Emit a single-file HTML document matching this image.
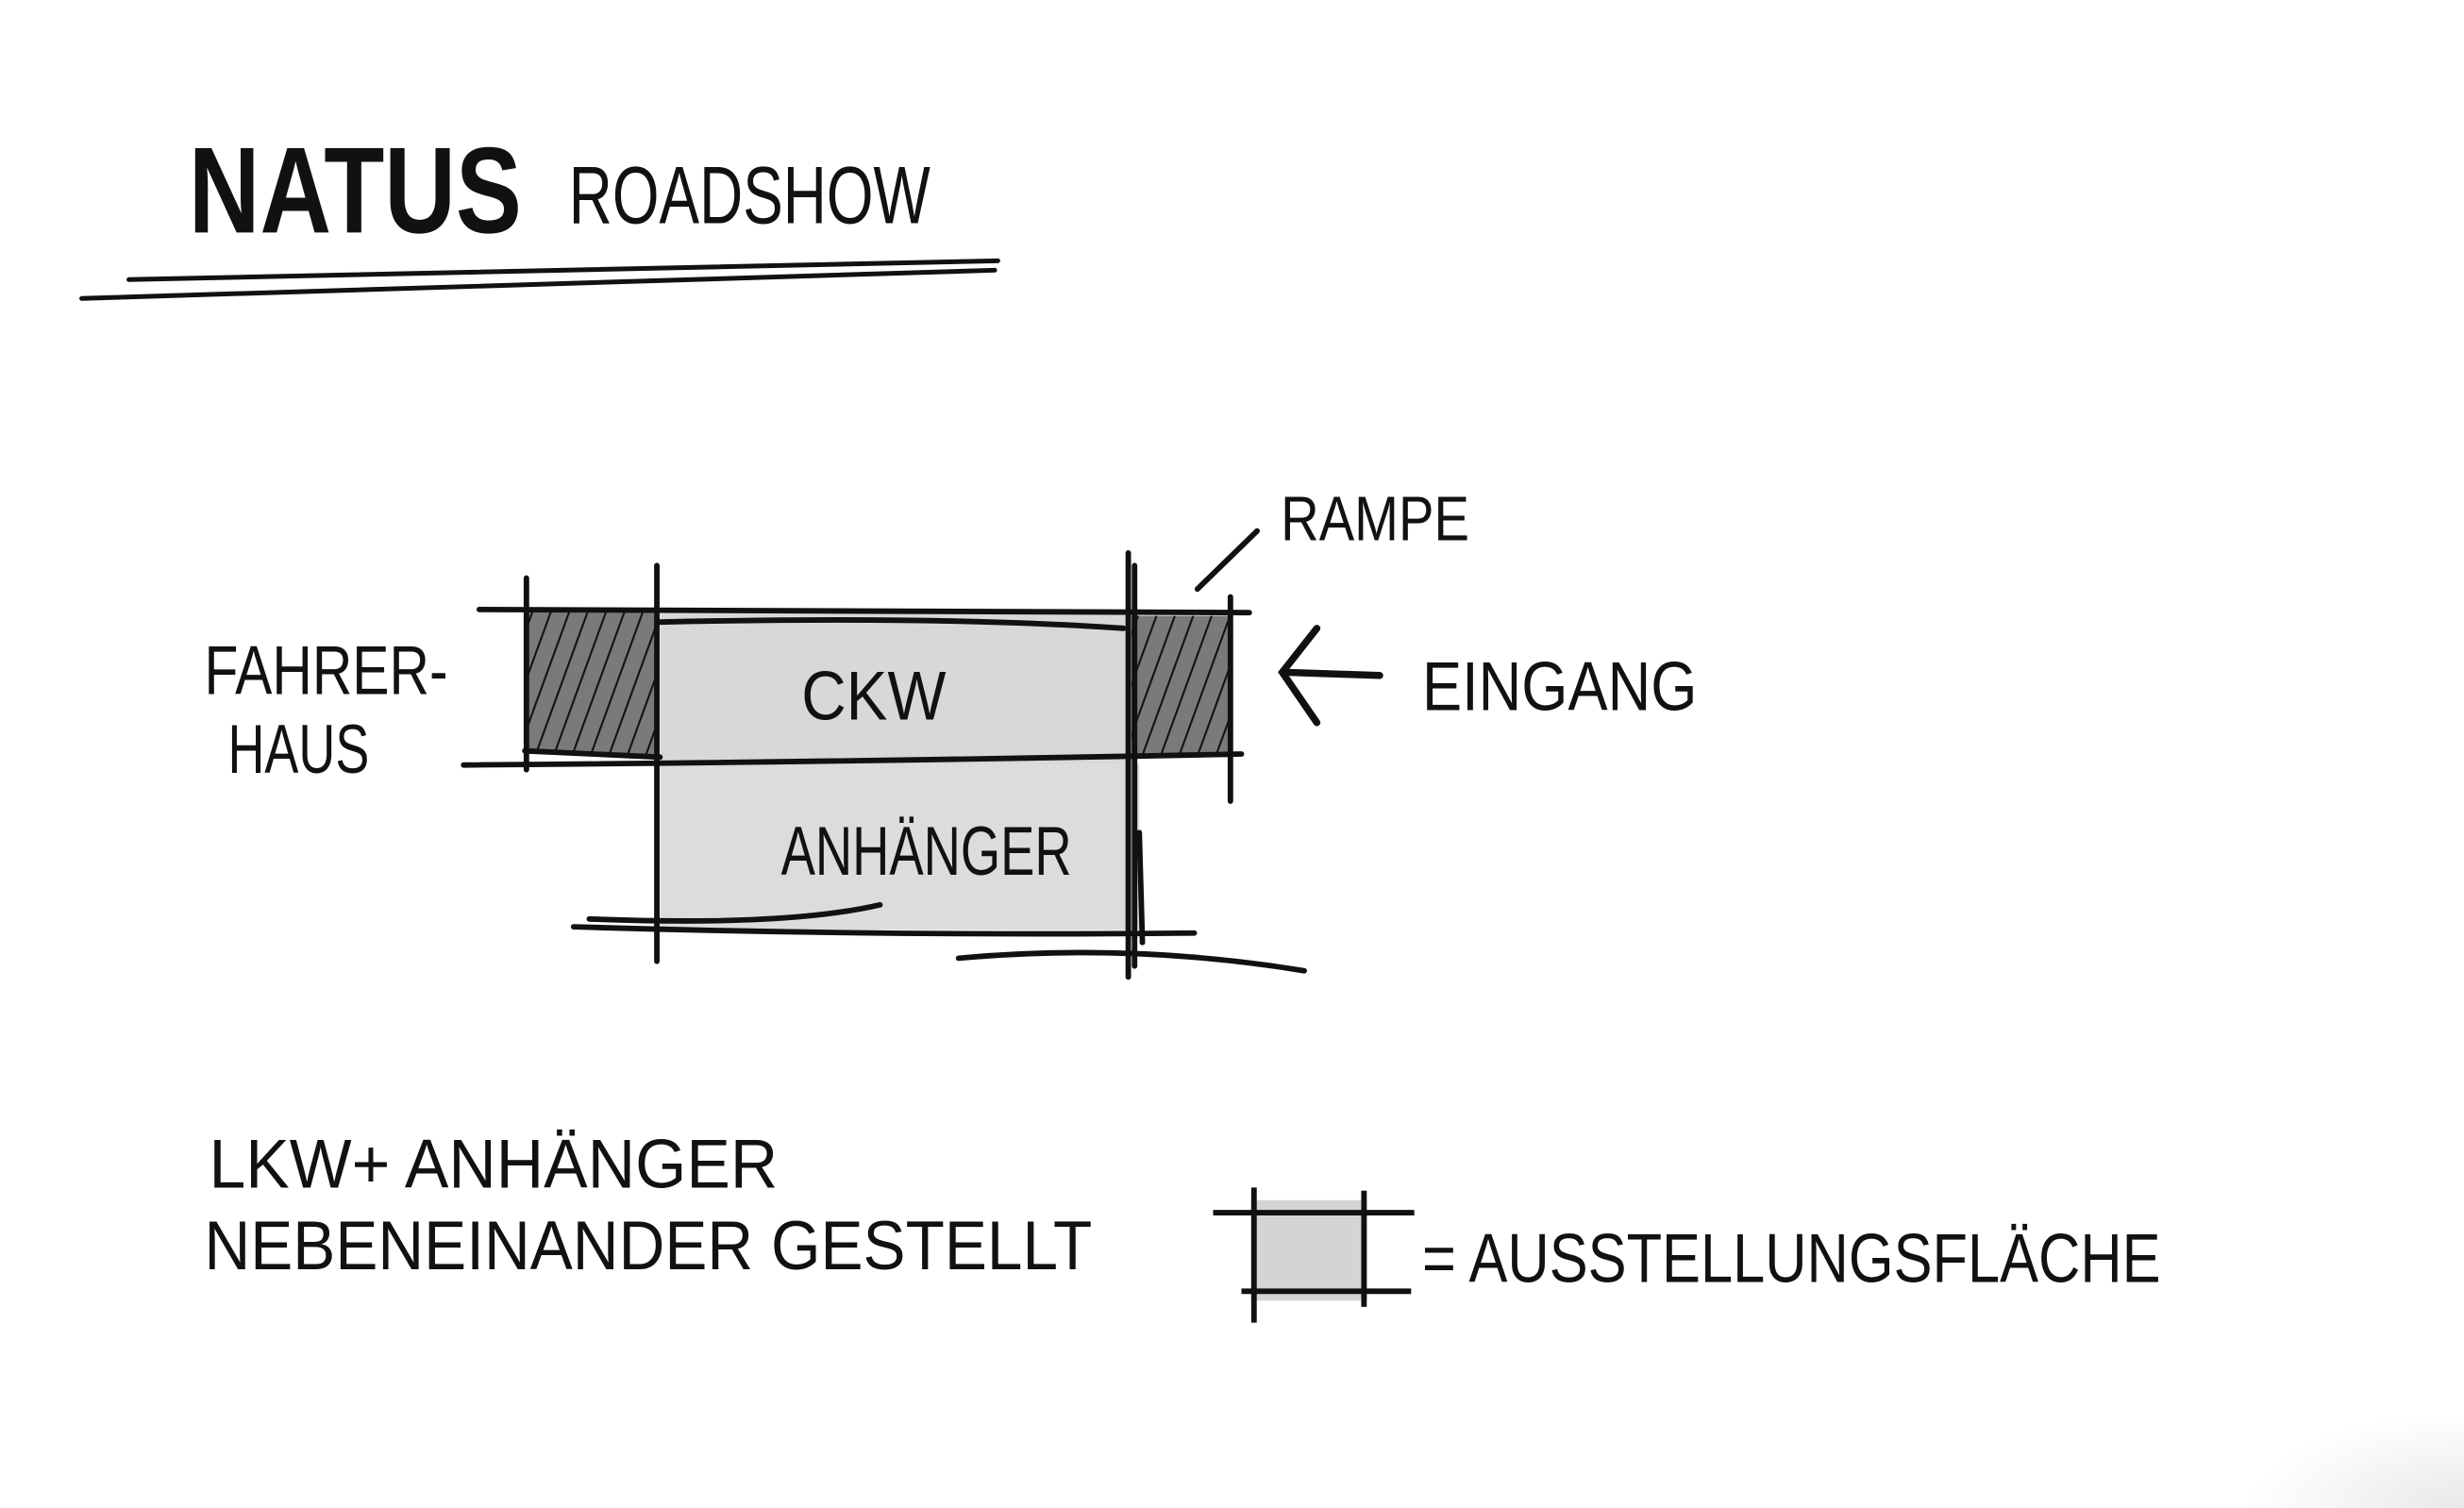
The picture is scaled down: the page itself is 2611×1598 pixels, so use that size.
<!DOCTYPE html>
<html><head><meta charset="utf-8"><style>
html,body{margin:0;padding:0;background:#fff;width:2611px;height:1598px;overflow:hidden}
svg{display:block}
text{font-family:"Liberation Sans Narrow","Liberation Sans",sans-serif;fill:#111}
</style></head><body>
<svg width="2611" height="1598" viewBox="0 0 1568 960" preserveAspectRatio="none">
<defs>
<pattern id="h" patternUnits="userSpaceOnUse" width="11" height="11" patternTransform="rotate(20)">
<rect width="11" height="11" fill="#7a7a7a"/><line x1="0" y1="0" x2="0" y2="11" stroke="#111" stroke-width="2.5"/>
</pattern>
<radialGradient id="sh" cx="1" cy="1" r="1"><stop offset="0" stop-color="#e8e8e8"/><stop offset="1" stop-color="#fff"/></radialGradient>
</defs>
<rect x="1430" y="900" width="138" height="60" fill="url(#sh)"/>
<text x="120" y="148" font-size="78" font-weight="bold" textLength="212" lengthAdjust="spacingAndGlyphs">NATUS</text>
<text x="362" y="142" font-size="52" textLength="230" lengthAdjust="spacingAndGlyphs">ROADSHOW</text>
<g stroke="#111" fill="none" stroke-linecap="round">
<path d="M82 178 Q360 172 635 166" stroke-width="3"/>
<path d="M52 190 Q340 182 633 172" stroke-width="3"/>
</g>
<rect x="420" y="390" width="300" height="96" fill="#d8d8d8"/>
<rect x="420" y="486" width="305" height="106" fill="#dcdcdc"/>
<rect x="334" y="388" width="84" height="92" fill="url(#h)"/>
<rect x="720" y="392" width="63" height="90" fill="url(#h)"/>
<g stroke="#111" fill="none" stroke-linecap="round" stroke-width="3.5">
<path d="M305 388 L795 390"/><path d="M420 396 Q600 392 715 400"/>
<path d="M295 487 Q550 485 790 480"/><path d="M334 478 L420 482"/>
<path d="M365 590 Q560 596 760 594"/><path d="M375 585 Q500 590 560 576"/>
<path d="M610 610 Q720 600 830 618"/>
<path d="M418 360 L418 612"/><path d="M718 352 L718 622"/><path d="M722 360 L722 615"/>
<path d="M335 368 L335 490"/><path d="M783 380 L783 510"/><path d="M725 530 L727 600"/>
<path d="M800 338 L762 375"/>
<path d="M878 430 L818 428" stroke-width="4.5"/><path d="M838 400 L816 428 L838 460" stroke-width="4.5"/>
</g>
<rect x="796" y="764" width="74" height="64" fill="#d4d4d4"/>
<g stroke="#111" fill="none" stroke-width="3.5"><path d="M772 772 L900 772"/><path d="M790 822 L898 822"/><path d="M798 756 L798 842"/><path d="M868 758 L868 832"/></g>
<g font-size="44">
<text x="510" y="458" textLength="92" lengthAdjust="spacingAndGlyphs">CKW</text>
<text x="497" y="557" textLength="185" lengthAdjust="spacingAndGlyphs">ANHÄNGER</text>
<text x="130" y="442" textLength="155" lengthAdjust="spacingAndGlyphs">FAHRER-</text>
<text x="145" y="492" textLength="90" lengthAdjust="spacingAndGlyphs">HAUS</text>
<text x="815" y="344" font-size="40" textLength="120" lengthAdjust="spacingAndGlyphs">RAMPE</text>
<text x="905" y="452" textLength="175" lengthAdjust="spacingAndGlyphs">EINGANG</text>
<text x="133" y="756" textLength="362" lengthAdjust="spacingAndGlyphs">LKW+ ANHÄNGER</text>
<text x="130" y="808" textLength="565" lengthAdjust="spacingAndGlyphs">NEBENEINANDER GESTELLT</text>
<text x="905" y="816" textLength="470" lengthAdjust="spacingAndGlyphs">= AUSSTELLUNGSFLÄCHE</text>
</g>
</svg>
</body></html>
